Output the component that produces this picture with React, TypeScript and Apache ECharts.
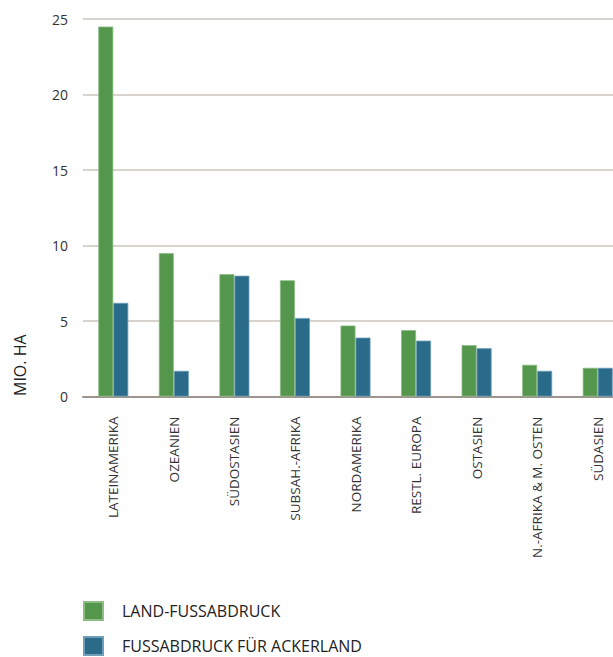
import React, { useEffect, useRef } from "react";
import * as echarts from "echarts";

const categories = [
  "LATEINAMERIKA",
  "OZEANIEN",
  "SÜDOSTASIEN",
  "SUBSAH.-AFRIKA",
  "NORDAMERIKA",
  "RESTL. EUROPA",
  "OSTASIEN",
  "N.-AFRIKA & M. OSTEN",
  "SÜDASIEN",
];
const landFootprint = [24.5, 9.5, 8.1, 7.7, 4.7, 4.4, 3.4, 2.1, 1.9];
const croplandFootprint = [6.2, 1.7, 8.0, 5.2, 3.9, 3.7, 3.2, 1.7, 1.9];
const seriesNames = ["LAND-FUSSABDRUCK", "FUSSABDRUCK FÜR ACKERLAND"];
const yAxisTitle = "MIO. HA";

const FONT = "'Open Sans', 'Noto Sans', sans-serif";
const GREEN = "#54964c";
const BLUE = "#296b89";

const legendBase = {
  orient: "horizontal",
  left: 83,
  padding: 0,
  itemWidth: 19,
  itemHeight: 18,
  icon: "rect",
  textStyle: {
    fontSize: 16,
    lineHeight: 16,
    color: "#222",
    fontFamily: FONT,
    padding: [0, 0, 0, 14],
  },
};

export default function App() {
  const ref = useRef<HTMLDivElement>(null);
  useEffect(() => {
    if (!ref.current) return;
    const chart = echarts.init(ref.current, null, { renderer: "svg" });
    chart.setOption({
      animation: false,
      textStyle: { fontFamily: FONT },
      grid: { left: 83, right: 0, top: 19, bottom: 260.5, containLabel: false },
      legend: [
        { ...legendBase, top: 601, data: [seriesNames[0]] },
        { ...legendBase, top: 636, data: [seriesNames[1]] },
      ],
      graphic: [
        {
          type: "text",
          x: 20,
          y: 396,
          rotation: Math.PI / 2,
          style: {
            text: yAxisTitle,
            fontSize: 16,
            fill: "#222",
            fontFamily: FONT,
            textAlign: "left",
            textVerticalAlign: "middle",
          },
        },
      ],
      xAxis: {
        type: "category",
        data: categories,
        axisLine: { lineStyle: { color: "#9d958d", width: 2 } },
        axisTick: { show: false },
        axisLabel: {
          rotate: 90,
          interval: 0,
          margin: 20,
          fontSize: 13.5,
          color: "#333",
          fontFamily: FONT,
        },
      },
      yAxis: {
        type: "value",
        min: 0,
        max: 25,
        interval: 5,
        axisLine: { show: false },
        axisTick: { show: false },
        splitLine: { lineStyle: { color: "#cbc5bd", width: 1.5 } },
        axisLabel: { fontSize: 14, color: "#333", margin: 15, fontFamily: FONT },
      },
      series: [
        {
          name: seriesNames[0],
          type: "bar",
          data: landFootprint,
          barWidth: 15,
          barGap: "0%",
          itemStyle: { color: GREEN, borderColor: "#8bbd84", borderWidth: 0.8 },
        },
        {
          name: seriesNames[1],
          type: "bar",
          data: croplandFootprint,
          barWidth: 15,
          barGap: "0%",
          itemStyle: { color: BLUE, borderColor: "#6f9fb8", borderWidth: 0.8 },
        },
      ],
    });
    return () => chart.dispose();
  }, []);
  return (
    <div
      style={{
        position: "absolute",
        left: 0,
        top: 0,
        width: 613,
        height: 657,
        overflow: "hidden",
        background: "#fff",
      }}
    >
      <div ref={ref} style={{ width: 628, height: 657 }} />
    </div>
  );
}
